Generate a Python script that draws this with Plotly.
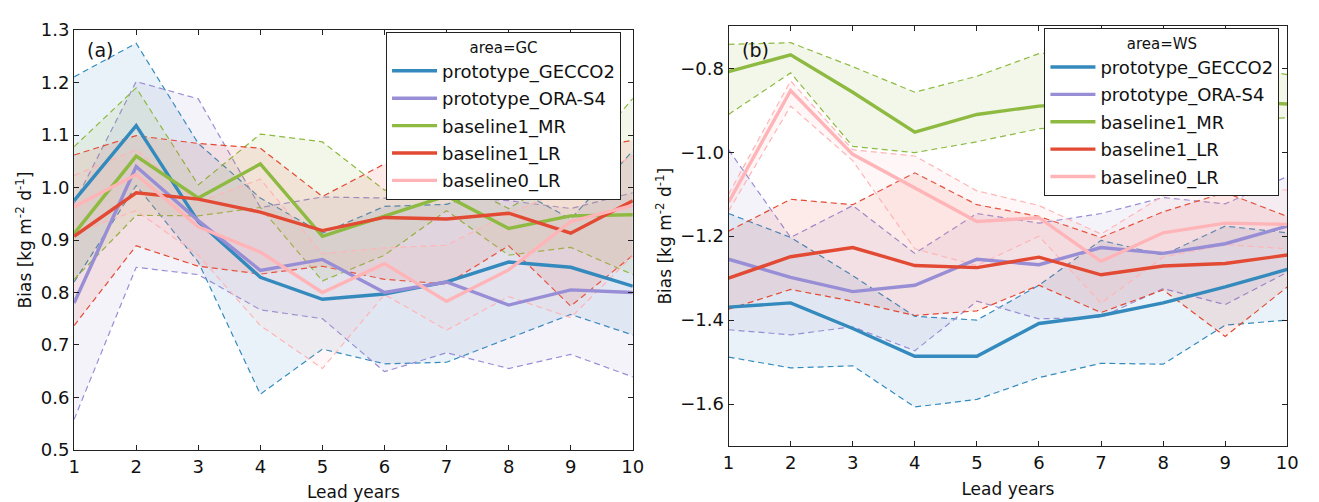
import plotly.graph_objects as go

# Lead years on the x axis
lead_years = [1, 2, 3, 4, 5, 6, 7, 8, 9, 10]

series_names = ["prototype_GECCO2", "prototype_ORA-S4", "baseline1_MR", "baseline1_LR", "baseline0_LR"]
series_colors = ["#348ABD", "#988ED5", "#8EBA42", "#E24A33", "#FFB5B8"]

# ---- area=GC : mean bias, upper and lower bounds ----
gc_gecco2 = [0.975, 1.118, 0.935, 0.829, 0.787, 0.797, 0.820, 0.858, 0.848, 0.812]
gc_gecco2_hi = [1.211, 1.275, 1.084, 0.980, 0.913, 0.964, 0.968, 1.005, 0.940, 1.070]
gc_gecco2_lo = [0.820, 1.004, 0.858, 0.606, 0.692, 0.664, 0.667, 0.712, 0.758, 0.719]

gc_oras4 = [0.780, 1.040, 0.937, 0.842, 0.863, 0.800, 0.820, 0.776, 0.805, 0.800]
gc_oras4_hi = [0.970, 1.202, 1.169, 0.962, 0.982, 0.980, 0.983, 0.975, 0.960, 0.990]
gc_oras4_lo = [0.558, 0.848, 0.834, 0.767, 0.750, 0.649, 0.685, 0.655, 0.682, 0.639]

gc_mr = [0.912, 1.060, 0.980, 1.045, 0.907, 0.945, 0.984, 0.922, 0.946, 0.948]
gc_mr_hi = [1.078, 1.190, 1.005, 1.102, 1.087, 0.995, 1.020, 0.960, 1.030, 1.170]
gc_mr_lo = [0.825, 0.947, 0.946, 0.962, 0.822, 0.871, 0.956, 0.871, 0.886, 0.834]

gc_b1lr = [0.907, 0.990, 0.978, 0.953, 0.918, 0.943, 0.940, 0.951, 0.913, 0.975]
gc_b1lr_hi = [1.062, 1.099, 1.084, 1.075, 0.983, 1.045, 1.060, 1.080, 1.070, 1.090]
gc_b1lr_lo = [0.737, 0.889, 0.850, 0.835, 0.850, 0.825, 0.816, 0.889, 0.774, 0.871]

gc_b0lr = [0.963, 1.025, 0.925, 0.877, 0.800, 0.855, 0.783, 0.843, 0.935, 0.966]
gc_b0lr_hi = [1.023, 1.072, 0.972, 1.016, 0.874, 0.885, 0.890, 0.950, 1.000, 1.060]
gc_b0lr_lo = [0.913, 0.956, 0.871, 0.737, 0.655, 0.796, 0.728, 0.792, 0.752, 0.870]

# ---- area=WS : mean bias, upper and lower bounds ----
ws_gecco2 = [-1.369, -1.359, -1.420, -1.486, -1.486, -1.408, -1.389, -1.359, -1.321, -1.279]
ws_gecco2_hi = [-1.146, -1.203, -1.294, -1.391, -1.400, -1.317, -1.210, -1.245, -1.176, -1.192]
ws_gecco2_lo = [-1.488, -1.514, -1.509, -1.607, -1.589, -1.537, -1.503, -1.505, -1.412, -1.400]

ws_oras4 = [-1.255, -1.298, -1.332, -1.317, -1.255, -1.268, -1.227, -1.241, -1.218, -1.176]
ws_oras4_hi = [-0.994, -1.203, -1.127, -1.241, -1.146, -1.169, -1.146, -1.108, -1.123, -1.058]
ws_oras4_lo = [-1.423, -1.435, -1.416, -1.473, -1.355, -1.397, -1.393, -1.325, -1.363, -1.286]

ws_mr = [-0.808, -0.768, -0.857, -0.952, -0.910, -0.890, -0.880, -0.872, -0.878, -0.885]
ws_mr_hi = [-0.743, -0.739, -0.796, -0.857, -0.819, -0.765, -0.760, -0.770, -0.790, -0.815]
ws_mr_lo = [-0.910, -0.811, -0.986, -1.001, -0.975, -0.944, -0.935, -0.930, -0.925, -0.918]

ws_b1lr = [-1.300, -1.249, -1.227, -1.270, -1.275, -1.250, -1.292, -1.271, -1.265, -1.245]
ws_b1lr_hi = [-1.188, -1.112, -1.125, -1.049, -1.125, -1.153, -1.203, -1.142, -1.096, -1.153]
ws_b1lr_lo = [-1.374, -1.327, -1.355, -1.389, -1.378, -1.317, -1.382, -1.328, -1.439, -1.321]

ws_b0lr = [-1.119, -0.853, -1.005, -1.085, -1.165, -1.156, -1.260, -1.192, -1.169, -1.172]
ws_b0lr_hi = [-1.100, -0.830, -0.994, -1.009, -1.092, -1.127, -1.195, -1.104, -1.090, -1.090]
ws_b0lr_lo = [-1.140, -0.890, -1.020, -1.230, -1.270, -1.200, -1.360, -1.250, -1.220, -1.230]

gc_mean = [gc_gecco2, gc_oras4, gc_mr, gc_b1lr, gc_b0lr]
gc_hi = [gc_gecco2_hi, gc_oras4_hi, gc_mr_hi, gc_b1lr_hi, gc_b0lr_hi]
gc_lo = [gc_gecco2_lo, gc_oras4_lo, gc_mr_lo, gc_b1lr_lo, gc_b0lr_lo]
ws_mean = [ws_gecco2, ws_oras4, ws_mr, ws_b1lr, ws_b0lr]
ws_hi = [ws_gecco2_hi, ws_oras4_hi, ws_mr_hi, ws_b1lr_hi, ws_b0lr_hi]
ws_lo = [ws_gecco2_lo, ws_oras4_lo, ws_mr_lo, ws_b1lr_lo, ws_b0lr_lo]

gc_ticks = [0.5, 0.6, 0.7, 0.8, 0.9, 1.0, 1.1, 1.2, 1.3]
gc_ticklabels = ["0.5", "0.6", "0.7", "0.8", "0.9", "1.0", "1.1", "1.2", "1.3"]
ws_ticks = [-1.6, -1.4, -1.2, -1.0, -0.8]
ws_ticklabels = ["\u22121.6", "\u22121.4", "\u22121.2", "\u22121.0", "\u22120.8"]

FONT = "DejaVu Sans"
W, H = 1319, 502


def rgba(hex_color, alpha):
    h = hex_color.lstrip("#")
    r, g, b = int(h[0:2], 16), int(h[2:4], 16), int(h[4:6], 16)
    return f"rgba({r},{g},{b},{alpha})"


fig = go.Figure()


def add_panel(means, his, los, xa, ya, legend_id):
    # shaded spread bands with dashed edges
    for name, col, m, hi, lo in zip(series_names, series_colors, means, his, los):
        fig.add_trace(go.Scatter(
            x=lead_years + lead_years[::-1], y=hi + lo[::-1],
            fill="toself", fillcolor=rgba(col, 0.11), line=dict(width=0),
            mode="lines", showlegend=False, hoverinfo="skip", xaxis=xa, yaxis=ya))
        for edge in (hi, lo):
            fig.add_trace(go.Scatter(
                x=lead_years, y=edge, mode="lines",
                line=dict(color=col, width=1.2, dash="6px,4px"),
                showlegend=False, xaxis=xa, yaxis=ya))
    # mean curves, one legend group each so rows get a small gap
    for name, col, m in zip(series_names, series_colors, means):
        fig.add_trace(go.Scatter(
            x=lead_years, y=m, mode="lines", name=name,
            line=dict(color=col, width=3.4), legend=legend_id,
            legendgroup=f"{legend_id}_{name}",
            xaxis=xa, yaxis=ya))


add_panel(gc_mean, gc_hi, gc_lo, "x", "y", "legend")
add_panel(ws_mean, ws_hi, ws_lo, "x2", "y2", "legend2")

axis_common = dict(
    showgrid=False, zeroline=False, showline=True, linecolor="#222", linewidth=1.2,
    mirror="ticks", ticks="inside", ticklen=5, tickcolor="#222", tickwidth=1,
    tickfont=dict(family=FONT, size=18, color="#111"),
)

xdom1 = [69 / W, 635 / W]
xdom2 = [732 / W, 1298 / W]
ydom1 = [1 - 458 / H, 1 - 20 / H]
ydom2 = [1 - 454 / H, 1 - 16 / H]

ytitle = "Bias [kg m<sup>-2</sup> d<sup>-1</sup>]"

legend_common = dict(
    xanchor="left", yanchor="top",
    bgcolor="white", bordercolor="#222", borderwidth=1,
    font=dict(family=FONT, size=18, color="#111"),
    itemwidth=45, tracegroupgap=1,
)

fig.update_layout(
    width=W, height=H,
    margin=dict(l=0, r=0, t=0, b=0),
    paper_bgcolor="white", plot_bgcolor="white",
    font=dict(family=FONT, color="#111"),
    xaxis=dict(domain=xdom1, range=[1, 10], tickvals=lead_years, anchor="y",
               title=dict(text="Lead years", font=dict(size=17), standoff=11), **axis_common),
    yaxis=dict(domain=ydom1, range=[0.5, 1.3], tickvals=gc_ticks, ticktext=gc_ticklabels, anchor="x",
               title=dict(text=ytitle, font=dict(size=17), standoff=4), **axis_common),
    xaxis2=dict(domain=xdom2, range=[1, 10], tickvals=lead_years, anchor="y2",
                title=dict(text="Lead years", font=dict(size=17), standoff=11), **axis_common),
    yaxis2=dict(domain=ydom2, range=[-1.7, -0.7], tickvals=ws_ticks, ticktext=ws_ticklabels, anchor="x2",
                title=dict(text=ytitle, font=dict(size=17), standoff=4), **axis_common),
    legend=dict(
        x=385 / W, y=1 - 22 / H,
        title=dict(text="area=GC", side="top center", font=dict(family=FONT, size=15)),
        **legend_common,
    ),
    legend2=dict(
        x=1052 / W, y=1 - 18 / H,
        title=dict(text="area=WS", side="top center", font=dict(family=FONT, size=15)),
        **legend_common,
    ),
    annotations=[
        dict(text="(a)", xref="paper", yref="paper", x=80 / W, y=1 - 41 / H,
             xanchor="left", yanchor="middle", showarrow=False, font=dict(family=FONT, size=19)),
        dict(text="(b)", xref="paper", yref="paper", x=744 / W, y=1 - 41 / H,
             xanchor="left", yanchor="middle", showarrow=False, font=dict(family=FONT, size=19)),
    ],
)

fig.write_html("out.html")
